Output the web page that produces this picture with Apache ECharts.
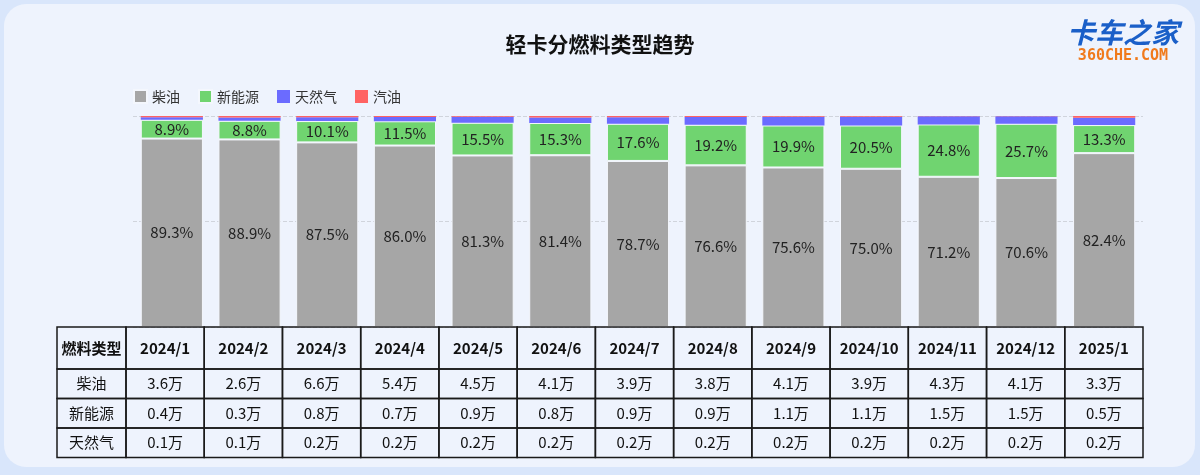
<!DOCTYPE html>
<html><head><meta charset="utf-8">
<script src="https://cdn.jsdelivr.net/npm/echarts@6/dist/echarts.min.js"></script>
<style>html,body{margin:0;padding:0;background:#d9e6fb;}#c{width:1200px;height:475px;}</style>
</head><body><div id="c"></div>
<script>
const categories = ['2024/1','2024/2','2024/3','2024/4','2024/5','2024/6','2024/7','2024/8','2024/9','2024/10','2024/11','2024/12','2025/1'];
const dieselPct = [89.3,88.9,87.5,86.0,81.3,81.4,78.7,76.6,75.6,75.0,71.2,70.6,82.4];
const nevPct    = [8.9,8.8,10.1,11.5,15.5,15.3,17.6,19.2,19.9,20.5,24.8,25.7,13.3];
const gasPct    = [1.2,1.6,1.8,2.0,2.8,2.6,3.1,3.7,4.2,4.2,3.9,3.6,3.5];
const petrolPct = [0.6,0.7,0.6,0.5,0.4,0.7,0.6,0.5,0.3,0.3,0.1,0.1,0.8];
const tableHeader = '燃料类型';
const rowNames = ['柴油','新能源','天然气'];
const dieselVol = ['3.6万','2.6万','6.6万','5.4万','4.5万','4.1万','3.9万','3.8万','4.1万','3.9万','4.3万','4.1万','3.3万'];
const nevVol    = ['0.4万','0.3万','0.8万','0.7万','0.9万','0.8万','0.9万','0.9万','1.1万','1.1万','1.5万','1.5万','0.5万'];
const gasVol    = ['0.1万','0.1万','0.2万','0.2万','0.2万','0.2万','0.2万','0.2万','0.2万','0.2万','0.2万','0.2万','0.2万'];
const seriesNames = ['柴油','新能源','天然气','汽油'];

const FONT = '"Noto Sans CJK SC","Noto Sans",sans-serif';
const chart = echarts.init(document.getElementById('c'));

// table layout
const tLeft = 57, firstW = 69, tRight = 1143, tTop = 327;
const colW = (tRight - tLeft - firstW) / categories.length;
const rowH = [42, 29.5, 29.5, 29.5];
const rows = [[tableHeader].concat(categories), [rowNames[0]].concat(dieselVol), [rowNames[1]].concat(nevVol), [rowNames[2]].concat(gasVol)];
const tableEls = [];
let y = tTop;
rows.forEach((r, ri) => {
  r.forEach((txt, ci) => {
    const x = ci === 0 ? tLeft : tLeft + firstW + (ci - 1) * colW;
    const w = ci === 0 ? firstW : colW;
    tableEls.push({type:'rect', shape:{x:x, y:y, width:w, height:rowH[ri]}, style:{fill:'rgba(0,0,0,0)', stroke:'#1a1a1a', lineWidth:1.5}, z:10});
    tableEls.push({type:'text', x:x + w/2, y:y + rowH[ri]/2, style:{text:txt, fill:'#111', font:(ri===0?'bold 15px ':'15px ')+FONT, textAlign:'center', textVerticalAlign:'middle'}, z:11});
  });
  y += rowH[ri];
});

const labelStyle = {show:true, position:'inside', color:'#222', fontSize:15, fontFamily:FONT, formatter: p => p.value.toFixed(1) + '%'};

chart.setOption({
  animation:false,
  backgroundColor:'#d9e6fb',
  title:{text:'轻卡分燃料类型趋势', left:'center', top:29, textStyle:{fontSize:21, fontWeight:'bold', color:'#111', fontFamily:FONT}},
  legend:{left:128, top:84, itemWidth:13, itemHeight:13, itemGap:18, icon:'rect', textStyle:{fontSize:14, color:'#333', fontFamily:FONT}, data:seriesNames},
  grid:{left:133, right:57, top:116, bottom:148},
  xAxis:{type:'category', data:categories, axisLine:{show:false}, axisTick:{show:false}, axisLabel:{show:false}},
  yAxis:{type:'value', min:0, max:100, interval:50, axisLabel:{show:false}, axisLine:{show:false}, splitLine:{lineStyle:{type:'dashed', color:'#d0d4dc'}}},
  graphic:[
    {type:'rect', shape:{x:4, y:4, width:1191, height:463, r:22}, style:{fill:'#eef3fd'}, z:-10, silent:true},
    {type:'text', x:1123, y:32, style:{text:'卡车之家', fill:'#1a5fc8', font:'bold italic 28px '+FONT, textAlign:'center', textVerticalAlign:'middle'}, z:5},
    {type:'text', x:1123, y:56, style:{text:'360CHE.COM', fill:'#f07a1c', font:'bold 15px "DejaVu Sans Mono",monospace', textAlign:'center', textVerticalAlign:'middle'}, z:5},
    {type:'group', children:tableEls}
  ],
  series:[
    {name:seriesNames[0], type:'bar', stack:'a', data:dieselPct, barWidth:'80%', itemStyle:{color:'#a6a6a6', borderColor:'#f4f7fd', borderWidth:1}, label:labelStyle},
    {name:seriesNames[1], type:'bar', stack:'a', data:nevPct, itemStyle:{color:'#70d470', borderColor:'#f4f7fd', borderWidth:1}, label:labelStyle},
    {name:seriesNames[2], type:'bar', stack:'a', data:gasPct, itemStyle:{color:'#6b6bff'}},
    {name:seriesNames[3], type:'bar', stack:'a', data:petrolPct, itemStyle:{color:'#ff6363'}}
  ]
});
</script></body></html>
